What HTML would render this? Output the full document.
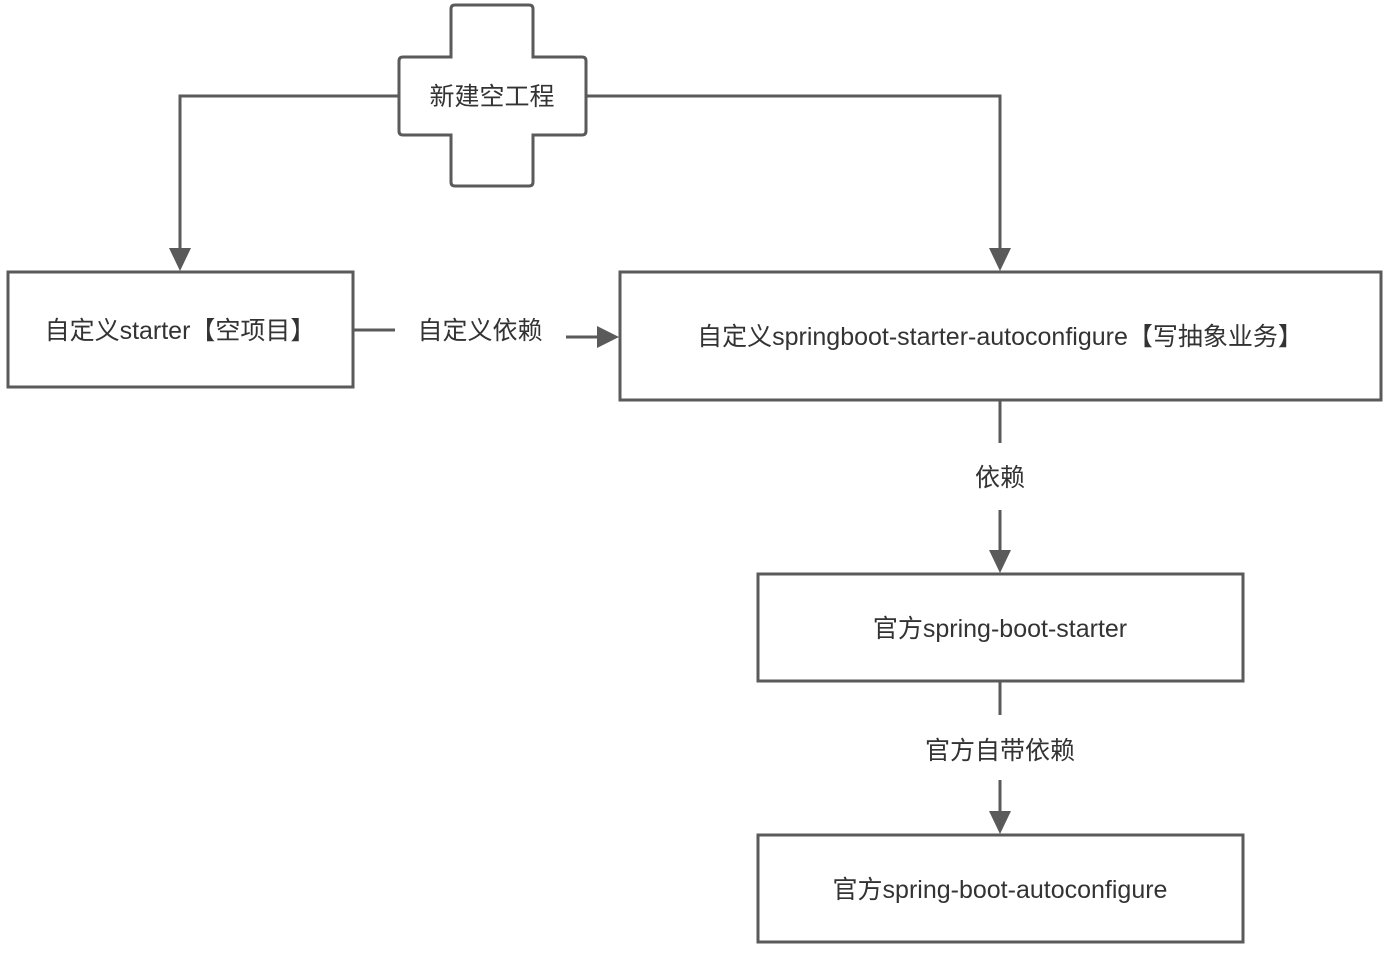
<!DOCTYPE html>
<html><head><meta charset="utf-8"><style>
html,body{margin:0;padding:0;background:#fff;}
svg text{font-family:"Liberation Sans","Noto Sans CJK SC",sans-serif;fill:#333;font-size:25px;}
</style></head><body>
<svg width="1388" height="949" viewBox="0 0 1388 949" xmlns="http://www.w3.org/2000/svg">
<g fill="none" stroke="#5a5a5a" stroke-width="3">
<path d="M455,5 H529 Q533,5 533,9 V57 H582 Q586,57 586,61 V131 Q586,135 582,135 H533 V182 Q533,186 529,186 H455 Q451,186 451,182 V135 H403 Q399,135 399,131 V61 Q399,57 403,57 H451 V9 Q451,5 455,5 Z" fill="#fff"/>
<rect x="8" y="272" width="345" height="115"/>
<rect x="620" y="272" width="761" height="128"/>
<rect x="758" y="574" width="485" height="107"/>
<rect x="758" y="835" width="485" height="107"/>
<path d="M399,96 H180 V250"/>
<path d="M586,96 H1000 V250"/>
<path d="M353,330 H395"/>
<path d="M566,337 H598"/>
<path d="M1000,400 V443"/>
<path d="M1000,510 V552"/>
<path d="M1000,681 V715"/>
<path d="M1000,780 V813"/>
</g>
<g fill="#5a5a5a">
<polygon points="169,248 191,248 180,271"/>
<polygon points="989,248 1011,248 1000,271"/>
<polygon points="597,326 597,348 619,337"/>
<polygon points="989,550 1011,550 1000,573"/>
<polygon points="989,811 1011,811 1000,834"/>
</g>
<text x="492" y="105" text-anchor="middle">新建空工程</text>
<text x="180" y="339" text-anchor="middle">自定义starter【空项目】</text>
<text x="480" y="339" text-anchor="middle">自定义依赖</text>
<text x="1000" y="345" text-anchor="middle">自定义springboot-starter-autoconfigure【写抽象业务】</text>
<text x="1000" y="486" text-anchor="middle">依赖</text>
<text x="1000" y="637" text-anchor="middle">官方spring-boot-starter</text>
<text x="1000" y="759" text-anchor="middle">官方自带依赖</text>
<text x="1000" y="898" text-anchor="middle">官方spring-boot-autoconfigure</text>
</svg>
</body></html>
